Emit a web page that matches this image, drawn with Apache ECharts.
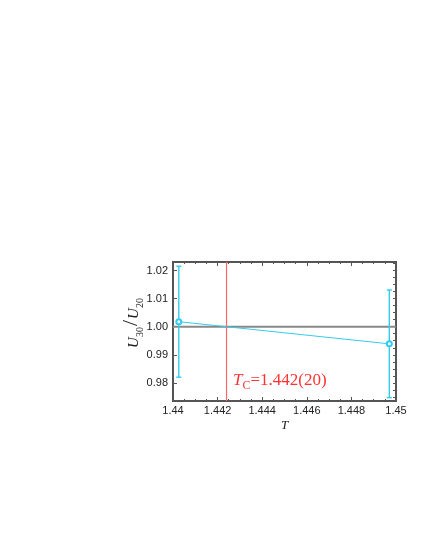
<!DOCTYPE html>
<html>
<head>
<meta charset="utf-8">
<script src="https://cdn.jsdelivr.net/npm/echarts@6/dist/echarts.min.js"></script>
<style>html,body{margin:0;padding:0;background:#fff}#c{width:425px;height:550px}</style>
</head>
<body>
<div id="c"></div>
<script>
var temps = [1.44026, 1.4497];
var ratio = [1.0018, 0.9939];
var errs = [0.0198, 0.0192];
var tcLine = 1.4424;
var refLevel = 1.0;
var yTicks = [0.98, 0.99, 1.00, 1.01, 1.02];
var xRange = [1.44, 1.45];
var yRange = [0.9735, 1.0231];

var chart = echarts.init(document.getElementById('c'));
var pts = temps.map(function (t, i) { return [t, ratio[i]]; });
var bars = temps.map(function (t, i) { return [t, ratio[i] - errs[i], ratio[i] + errs[i]]; });
var sans = 'Liberation Sans';
var serif = 'Liberation Serif';
var frame = '#555';
var cyan = '#33ccee';
var yMinor = [];
for (var v = 0.975; v <= 1.0231; v += 0.0025) { yMinor.push(+v.toFixed(4)); }

var option = {
  animation: false,
  color: [cyan],
  grid: { left: 173, top: 262, right: 29, bottom: 149, show: true, borderColor: frame, borderWidth: 2 },
  xAxis: [{
    type: 'value', min: xRange[0], max: xRange[1], interval: 0.002,
    axisLine: { show: false },
    axisTick: { inside: true, length: 4, lineStyle: { color: frame } },
    minorTick: { show: true, splitNumber: 4, length: 2, lineStyle: { color: frame } },
    splitLine: { show: false },
    axisLabel: { fontFamily: sans, fontSize: 11, color: '#222', margin: 4,
      formatter: function (v) { return String(+v.toFixed(3)); } },
    name: 'T', nameLocation: 'middle', nameGap: 18,
    nameTextStyle: { fontFamily: serif, fontStyle: 'italic', fontSize: 13, color: '#222' }
  }, {
    type: 'value', position: 'top', min: xRange[0], max: xRange[1], interval: 0.002,
    axisLine: { show: false },
    axisTick: { inside: true, length: 4, lineStyle: { color: frame } },
    minorTick: { show: true, splitNumber: 4, length: 2, lineStyle: { color: frame } },
    splitLine: { show: false }, axisLabel: { show: false }
  }],
  yAxis: [{
    type: 'value', min: yRange[0], max: yRange[1],
    axisLine: { show: false },
    axisTick: { inside: true, length: 4, lineStyle: { color: frame }, customValues: yTicks },
    splitLine: { show: false },
    axisLabel: { fontFamily: sans, fontSize: 11, color: '#222', margin: 5, customValues: yTicks,
      formatter: function (v) { return v.toFixed(2); } }
  }, {
    type: 'value', position: 'right', min: yRange[0], max: yRange[1],
    axisLine: { show: false },
    axisTick: { inside: true, length: 3, lineStyle: { color: frame }, customValues: yMinor },
    splitLine: { show: false }, axisLabel: { show: false }
  }],
  series: [{
    type: 'line', data: [[xRange[0], refLevel], [xRange[1], refLevel]],
    symbol: 'none', silent: true, z: 2,
    lineStyle: { color: '#888', width: 2 }
  }, {
    type: 'line', data: [[tcLine, yRange[0]], [tcLine, yRange[1]]],
    symbol: 'none', silent: true, z: 3,
    lineStyle: { color: '#ff6666', width: 1.2 }
  }, {
    type: 'custom', data: bars, z: 4,
    itemStyle: { color: cyan },
    renderItem: function (params, api) {
      var x = api.value(0);
      var lo = api.coord([x, api.value(1)]);
      var hi = api.coord([x, api.value(2)]);
      var w = 2.5;
      var st = { stroke: cyan, fill: null, lineWidth: 1.4 };
      return { type: 'group', children: [
        { type: 'line', shape: { x1: lo[0], y1: lo[1], x2: hi[0], y2: hi[1] }, style: st },
        { type: 'line', shape: { x1: lo[0] - w, y1: lo[1], x2: lo[0] + w, y2: lo[1] }, style: st },
        { type: 'line', shape: { x1: hi[0] - w, y1: hi[1], x2: hi[0] + w, y2: hi[1] }, style: st }
      ] };
    }
  }, {
    type: 'line', data: pts, z: 5,
    symbol: 'emptyCircle', symbolSize: 5,
    lineStyle: { color: cyan, width: 1 },
    itemStyle: { color: cyan, borderWidth: 1 }
  }],
  graphic: [{
    type: 'text', left: 233, top: 372,
    style: {
      text: '{t|T}{c|C}{r|=1.442(20)}',
      rich: {
        t: { fontFamily: serif, fontStyle: 'italic', fontSize: 17, fill: '#ff3333', verticalAlign: 'bottom' },
        c: { fontFamily: serif, fontSize: 12, fill: '#ff3333', verticalAlign: 'bottom', padding: [0, 0, -3, 0] },
        r: { fontFamily: serif, fontSize: 17, fill: '#ff3333', verticalAlign: 'bottom' }
      }
    }
  }, {
    type: 'text', x: 142, y: 323, rotation: Math.PI / 2,
    style: {
      text: '{u|U}{s|30}{sl|/}{u|U}{s|20}',
      align: 'center', verticalAlign: 'bottom',
      rich: {
        u: { fontFamily: serif, fontStyle: 'italic', fontSize: 15, fill: '#222', verticalAlign: 'bottom' },
        s: { fontFamily: serif, fontSize: 10, fill: '#222', verticalAlign: 'bottom', padding: [0, 0, -3, 0] },
        sl: { fontFamily: serif, fontSize: 22, fill: '#222', verticalAlign: 'bottom', padding: [0, 1, 0, 1] }
      }
    }
  }]
};
chart.setOption(option);
</script>
</body>
</html>
